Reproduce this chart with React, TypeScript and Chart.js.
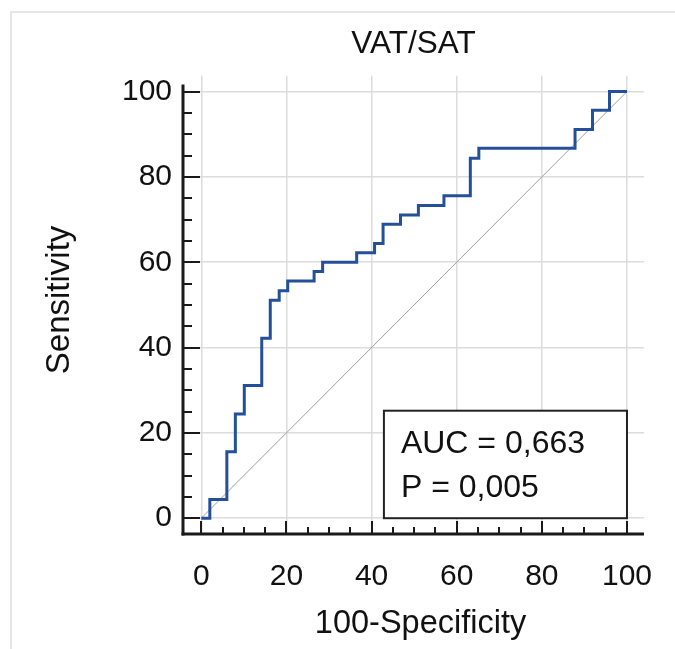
import React, { useEffect, useRef } from 'react';
import { Chart, registerables } from 'chart.js';

Chart.register(...registerables);

// ---- Data ----
const TITLE = 'VAT/SAT';
const X_TITLE = '100-Specificity';
const Y_TITLE = 'Sensitivity';
const MAJOR_TICKS = [0, 20, 40, 60, 80, 100];
const MINOR_TICKS = [5, 10, 15, 25, 30, 35, 45, 50, 55, 65, 70, 75, 85, 90, 95];

// ROC step corners: 100-specificity (x) where sensitivity (y) jumps to the new value
const rocFpr = [0, 2.0, 6.0, 8.0, 10.1, 14.2, 16.2, 18.3, 20.3, 26.5, 28.5, 36.5, 40.7, 42.7, 46.8, 51.0, 57.0, 63.2, 65.2, 87.8, 91.9, 95.9, 100];
const rocTpr = [0, 4.4, 15.6, 24.4, 31.1, 42.2, 51.1, 53.3, 55.6, 57.8, 60.0, 62.2, 64.4, 68.9, 71.1, 73.3, 75.6, 84.4, 86.7, 91.1, 95.6, 100, 100];

const diagX = [0, 100];
const diagY = [0, 100];

const AUC_LINES = ['AUC = 0,663', 'P = 0,005'];

const FONT = '"Liberation Sans", Arial, Helvetica, sans-serif';
const TEXT_COLOR = '#111111';

export default function App() {
  const ref = useRef<HTMLCanvasElement | null>(null);

  useEffect(() => {
    const canvas = ref.current;
    if (!canvas) return;

    const decor = {
      id: 'rocDecor',
      beforeDraw(chart: any) {
        const { ctx, width, height } = chart;
        ctx.save();
        ctx.fillStyle = '#ffffff';
        ctx.fillRect(0, 0, width, height);
        ctx.fillStyle = '#e6e6e6';
        ctx.fillRect(10, 11, 2, height - 11);
        ctx.fillRect(10, 11, width - 10, 2);
        ctx.restore();
      },
      afterDraw(chart: any) {
        const { ctx, chartArea: ca } = chart;
        const xs = chart.scales.x;
        const ys = chart.scales.y;
        ctx.save();

        // AUC box
        const bx0 = xs.getPixelForValue(42.9);
        const bx1 = xs.getPixelForValue(100);
        const by0 = ys.getPixelForValue(25.2);
        const by1 = ys.getPixelForValue(0);
        ctx.fillStyle = '#ffffff';
        ctx.fillRect(bx0, by0, bx1 - bx0, by1 - by0);
        ctx.strokeStyle = '#222222';
        ctx.lineWidth = 2;
        ctx.strokeRect(bx0, by0, bx1 - bx0, by1 - by0);
        ctx.fillStyle = TEXT_COLOR;
        ctx.font = `32px ${FONT}`;
        ctx.textAlign = 'left';
        ctx.textBaseline = 'alphabetic';
        ctx.fillText(AUC_LINES[0], bx0 + 17, by0 + 42);
        ctx.fillText(AUC_LINES[1], bx0 + 17, by0 + 86);

        // Axis titles
        ctx.font = `32.5px ${FONT}`;
        ctx.textAlign = 'center';
        ctx.textBaseline = 'middle';
        ctx.fillText(X_TITLE, (ca.left + ca.right) / 2 + 7, 624);
        ctx.save();
        ctx.translate(60, (ca.top + ca.bottom) / 2 - 5);
        ctx.rotate(-Math.PI / 2);
        ctx.font = `33px ${FONT}`;
        ctx.fillText(Y_TITLE, 0, 0);
        ctx.restore();

        // Axis lines
        const axX = ca.left;
        const axY = ca.bottom;
        ctx.strokeStyle = '#1a1a1a';
        ctx.lineWidth = 3;
        ctx.beginPath();
        ctx.moveTo(axX, ys.getPixelForValue(100) - 7);
        ctx.lineTo(axX, axY + 1.5);
        ctx.stroke();
        ctx.beginPath();
        ctx.moveTo(axX - 1.5, axY);
        ctx.lineTo(ca.right, axY);
        ctx.stroke();

        // Tick marks (inward)
        ctx.lineWidth = 2;
        ctx.beginPath();
        for (const v of MAJOR_TICKS) {
          const py = Math.round(ys.getPixelForValue(v));
          ctx.moveTo(axX, py);
          ctx.lineTo(axX + 17, py);
          const px = Math.round(xs.getPixelForValue(v));
          ctx.moveTo(px, axY);
          ctx.lineTo(px, axY - 13);
        }
        for (const v of MINOR_TICKS) {
          const py = Math.round(ys.getPixelForValue(v));
          ctx.moveTo(axX, py);
          ctx.lineTo(axX + 9, py);
          const px = Math.round(xs.getPixelForValue(v));
          ctx.moveTo(px, axY);
          ctx.lineTo(px, axY - 7);
        }
        ctx.stroke();
        ctx.restore();
      },
    };

    const setTicks = (s: any) => {
      s.ticks = MAJOR_TICKS.map((v) => ({ value: v }));
    };

    const chart = new Chart(canvas, {
      type: 'line',
      data: {
        datasets: [
          {
            label: 'ROC',
            data: rocFpr.map((x, i) => ({ x, y: rocTpr[i] })),
            borderColor: '#24509a',
            borderWidth: 3,
            stepped: 'before',
            pointRadius: 0,
            fill: false,
            order: 0,
          },
          {
            label: 'Reference',
            data: diagX.map((x, i) => ({ x, y: diagY[i] })),
            borderColor: '#a0a0a0',
            borderWidth: 1,
            pointRadius: 0,
            fill: false,
            order: 1,
          },
        ],
      },
      options: {
        responsive: false,
        maintainAspectRatio: false,
        animation: false,
        layout: { padding: { left: 0, right: 31, top: 0, bottom: 0 } },
        plugins: {
          legend: { display: false },
          tooltip: { enabled: false },
          title: {
            display: true,
            text: TITLE,
            fullSize: false,
            color: TEXT_COLOR,
            font: { family: FONT, size: 31.5, weight: 'normal' },
            padding: { top: 25, bottom: 13 },
          },
        },
        scales: {
          x: {
            type: 'linear',
            min: -4.3,
            max: 104,
            afterBuildTicks: setTicks,
            afterFit: (s: any) => {
              s.height = 115;
              s.paddingLeft = 0;
              s.paddingRight = 0;
            },
            border: { display: false },
            grid: { color: '#dcdcdc', lineWidth: 1.5, drawTicks: false },
            ticks: {
              color: TEXT_COLOR,
              font: { family: FONT, size: 30 },
              padding: 25,
              maxRotation: 0,
            },
            title: { display: false },
          },
          y: {
            type: 'linear',
            min: -3.7,
            max: 103.7,
            afterBuildTicks: setTicks,
            afterFit: (s: any) => {
              s.width = 183;
              s.paddingTop = 0;
              s.paddingBottom = 0;
            },
            border: { display: false },
            grid: { color: '#dcdcdc', lineWidth: 1.5, drawTicks: false },
            ticks: {
              color: TEXT_COLOR,
              font: { family: FONT, size: 30 },
              padding: 11,
            },
            title: { display: false },
          },
        },
      },
      plugins: [decor],
    } as any);

    return () => {
      chart.destroy();
    };
  }, []);

  return (
    <canvas
      ref={ref}
      width={675}
      height={649}
      style={{ position: 'absolute', left: 0, top: 0, width: 675, height: 649 }}
    />
  );
}
